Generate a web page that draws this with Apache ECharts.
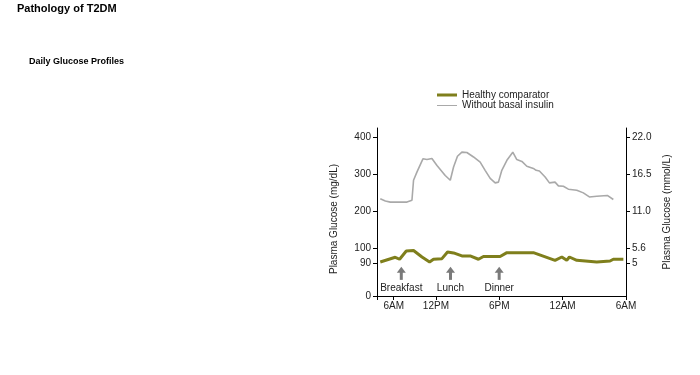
<!DOCTYPE html>
<html>
<head>
<meta charset="utf-8">
<script src="https://cdn.jsdelivr.net/npm/echarts@6/dist/echarts.min.js"></script>
<style>html,body{margin:0;padding:0;background:#fff}#c{width:700px;height:375px}</style>
</head>
<body>
<div id="c"></div>
<script>
// ---- data ----
const seriesNames = ['Healthy comparator', 'Without basal insulin'];
// hours of day (6 = 6AM, 24 = midnight, 30 = 6AM next day)
const basalHours = [6.73, 7.21, 7.68, 9.26, 9.73, 9.88, 10.20, 10.77, 11.15, 11.62, 12.10, 12.88, 13.36, 13.67, 14.04, 14.46, 14.93, 15.56, 16.19, 16.66, 17.14, 17.61, 17.92, 18.24, 18.72, 19.28, 19.66, 20.14, 20.61, 21.23, 21.49, 21.80, 22.34, 22.75, 23.28, 23.60, 24.07, 24.54, 25.34, 25.96, 26.53, 27.23, 28.23, 28.80];
const basalValues = [233, 227, 224, 224, 229, 283, 305, 341, 339, 342, 323, 296, 283, 319, 348, 359, 358, 346, 332, 310, 288, 276, 278, 310, 337, 359, 339, 334, 321, 315, 310, 308, 292, 276, 278, 268, 267, 259, 256, 249, 238, 240, 242, 231];
const healthyHours = [6.73, 8.15, 8.56, 9.19, 9.88, 10.68, 11.40, 11.77, 12.57, 13.10, 13.67, 14.46, 15.24, 16.03, 16.50, 17.77, 18.08, 18.72, 19.03, 21.23, 23.28, 23.92, 24.39, 24.64, 25.34, 27.23, 28.49, 28.80, 29.75];
const healthyValues = [90.7, 93.8, 92.5, 98.0, 98.3, 94.0, 90.7, 92.5, 92.9, 97.3, 96.7, 94.7, 94.7, 92.5, 94.3, 94.3, 94.3, 96.9, 96.9, 96.9, 91.8, 94.0, 91.8, 94.0, 91.8, 90.7, 91.3, 92.5, 92.5];
const mealHours = [8.72, 13.38, 17.99];
const mealLabels = ['Breakfast', 'Lunch', 'Dinner'];
const xTickHours = [8, 12, 18, 24, 30];
const xTickLabels = ['6AM', '12PM', '6PM', '12AM', '6AM'];
const yTicksMg = [0, 90, 100, 200, 300, 400];
const yTickLabelsMg = ['0', '90', '100', '200', '300', '400'];
const yTicksMmolPos = [90, 100, 200, 300, 400];
const yTickLabelsMmol = ['5', '5.6', '11.0', '16.5', '22.0'];

// ---- broken (piecewise) glucose scale ----
const G_BREAKS = [0, 90, 100, 400];
const D_BREAKS = [0, 33, 48, 159];
function toDisplay(g) {
  for (let i = 1; i < G_BREAKS.length; i++) {
    if (g <= G_BREAKS[i] || i === G_BREAKS.length - 1) {
      const g0 = G_BREAKS[i - 1], g1 = G_BREAKS[i], d0 = D_BREAKS[i - 1], d1 = D_BREAKS[i];
      return d0 + (g - g0) * (d1 - d0) / (g1 - g0);
    }
  }
}
function labelFor(v, ticks, labels) {
  let best = 0, bd = Infinity;
  ticks.forEach((t, i) => { const d = Math.abs(toDisplay(t) - v); if (d < bd) { bd = d; best = i; } });
  return labels[best];
}

const FONT = 'Liberation Sans, Arial, sans-serif';
const chart = echarts.init(document.getElementById('c'), null, { renderer: 'canvas' });
const axisLineStyle = { color: '#000', width: 1 };
const legendText = { fontFamily: FONT, fontSize: 10, color: '#222' };

chart.setOption({
  animation: false,
  backgroundColor: '#fff',
  title: [
    { text: 'Pathology of T2DM', left: 17, top: 3, padding: 0, textStyle: { fontFamily: FONT, fontSize: 11, fontWeight: 'bold', color: '#000' } },
    { text: 'Daily Glucose Profiles', left: 29, top: 57, padding: 0, textStyle: { fontFamily: FONT, fontSize: 9, fontWeight: 'bold', color: '#000' } }
  ],
  legend: [
    { left: 437, top: 90, padding: 0, itemWidth: 20, itemHeight: 3, icon: 'rect', data: [seriesNames[0]], textStyle: legendText },
    { left: 437, top: 100.5, padding: 0, itemWidth: 20, itemHeight: 1, icon: 'rect', data: [seriesNames[1]], textStyle: legendText }
  ],
  grid: { left: 377, right: 74, top: 128, bottom: 79 },
  xAxis: {
    type: 'value', min: 6.42, max: 30,
    splitLine: { show: false },
    axisLine: { lineStyle: axisLineStyle },
    axisTick: { show: true, length: 4, lineStyle: axisLineStyle, customValues: [6.42].concat(xTickHours) },
    axisLabel: {
      customValues: xTickHours, fontFamily: FONT, fontSize: 10, color: '#222', margin: 5,
      formatter: v => { let b = 0; xTickHours.forEach((h, i) => { if (Math.abs(h - v) < Math.abs(xTickHours[b] - v)) b = i; }); return xTickLabels[b]; }
    }
  },
  yAxis: [
    {
      type: 'value', min: 0, max: 168, position: 'left',
      name: 'Plasma Glucose (mg/dL)', nameLocation: 'middle', nameGap: 38, nameRotate: 90,
      nameTextStyle: { fontFamily: FONT, fontSize: 10, color: '#222', padding: [0, 0, 0, -14] },
      splitLine: { show: false },
      axisLine: { show: true, lineStyle: axisLineStyle },
      axisTick: { show: true, length: 4, lineStyle: axisLineStyle, customValues: yTicksMg.map(toDisplay) },
      axisLabel: { customValues: yTicksMg.map(toDisplay), fontFamily: FONT, fontSize: 10, color: '#222', margin: 6,
        formatter: v => labelFor(v, yTicksMg, yTickLabelsMg) }
    },
    {
      type: 'value', min: 0, max: 168, position: 'right',
      name: 'Plasma Glucose (mmol/L)', nameLocation: 'middle', nameGap: 36, nameRotate: 90,
      nameTextStyle: { fontFamily: FONT, fontSize: 10, color: '#222' },
      splitLine: { show: false },
      axisLine: { show: true, lineStyle: axisLineStyle },
      axisTick: { show: true, length: 4, lineStyle: axisLineStyle, customValues: yTicksMmolPos.map(toDisplay) },
      axisLabel: { customValues: yTicksMmolPos.map(toDisplay), fontFamily: FONT, fontSize: 10, color: '#222', margin: 6,
        formatter: v => labelFor(v, yTicksMmolPos, yTickLabelsMmol) }
    }
  ],
  series: [
    {
      name: 'Without basal insulin', type: 'line', symbol: 'none', smooth: false,
      lineStyle: { color: '#a9a9a9', width: 1.6 }, itemStyle: { color: '#a9a9a9' },
      data: basalHours.map((h, i) => [h, toDisplay(basalValues[i])])
    },
    {
      name: 'Healthy comparator', type: 'line', symbol: 'none', smooth: false,
      lineStyle: { color: '#7f7f1c', width: 3 }, itemStyle: { color: '#7f7f1c' },
      data: healthyHours.map((h, i) => [h, toDisplay(healthyValues[i])])
    },
    {
      name: 'meals', type: 'custom', silent: true,
      data: mealHours.map((h, i) => [h, i]),
      renderItem: (params, api) => {
        const x = api.value(0);
        const tip = api.coord([x, toDisplay(80)]);
        const base = api.coord([x, toDisplay(44)]);
        const idx = api.value(1);
        return {
          type: 'group',
          children: [
            { type: 'polygon', shape: { points: [[tip[0], tip[1]], [tip[0] - 4.5, tip[1] + 6], [tip[0] + 4.5, tip[1] + 6]] }, style: { fill: '#7a7a7a' } },
            { type: 'rect', shape: { x: tip[0] - 1.5, y: tip[1] + 5, width: 3, height: base[1] - tip[1] - 5 }, style: { fill: '#7a7a7a' } },
            { type: 'text', style: { text: mealLabels[idx], x: tip[0], y: base[1] + 8, align: 'center', verticalAlign: 'middle', font: '10px ' + FONT, fill: '#222' } }
          ]
        };
      }
    }
  ]
});
</script>
</body>
</html>
